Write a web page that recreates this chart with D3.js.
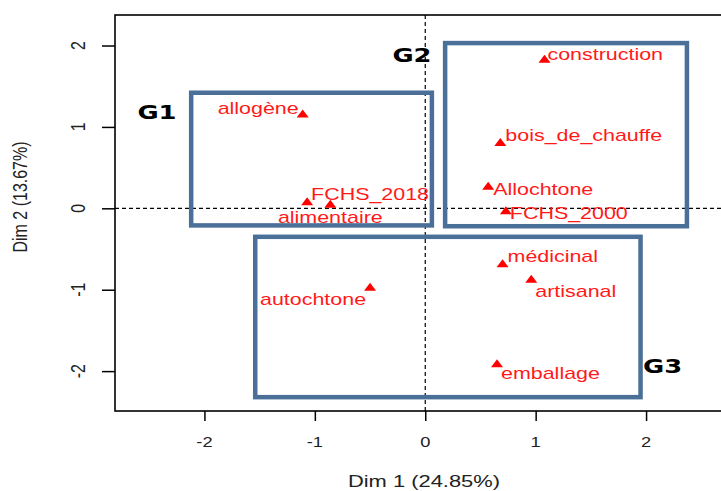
<!DOCTYPE html>
<html><head><meta charset="utf-8">
<script src="https://cdn.jsdelivr.net/npm/d3@7"></script>
<style>body{margin:0;background:#fff}svg{display:block}</style>
</head><body><div id="chart"></div>
<script>
// ---- data ----
const names = ["allogène","FCHS_2018","alimentaire","construction","bois_de_chauffe","Allochtone","FCHS_2000","autochtone","médicinal","artisanal","emballage"];
const dim1  = [-1.11,-1.07,-0.86,1.08,0.68,0.57,0.73,-0.50,0.70,0.96,0.65];
const dim2  = [1.16,0.08,0.05,1.83,0.81,0.27,-0.03,-0.97,-0.68,-0.87,-1.91];
const groupNames = ["G1","G2","G3"];
const groupX0 = [-2.12,0.18,-1.54];
const groupX1 = [0.06,2.37,1.95];
const groupY0 = [-0.21,-0.22,-2.32];
const groupY1 = [1.42,2.03,-0.35];
const groupLabelX = [-2.43,-0.12,2.15];
const groupLabelY = [1.18,1.89,-1.93];
const xTicks = [-2,-1,0,1,2];
const yTicks = [-2,-1,0,1,2];
const xTitle = "Dim 1 (24.85%)";
const yTitle = "Dim 2 (13.67%)";

// label placement (style): anchor, dx, dy in px
const labelStyle = {
  "allogène":["end",-4,-6], "FCHS_2018":["start",4,-8], "alimentaire":["middle",0,13],
  "construction":["start",3,-5], "bois_de_chauffe":["start",5,-7], "Allochtone":["start",5,3],
  "FCHS_2000":["start",4,2], "autochtone":["end",-4,12], "médicinal":["start",5,-7],
  "artisanal":["start",4,12], "emballage":["start",4,9]
};

const W = 721, H = 491;
const svg = d3.select("#chart").append("svg").attr("width",W).attr("height",H);
const x = d3.scaleLinear().domain([-2.81,2.81]).range([115,735.5]);
const y = d3.scaleLinear().domain([-2.49,2.375]).range([411,15]);

const blue = "#4a6f98";
const SX = 1.3;

// dashed zero lines
svg.append("line").attr("x1",x(-2.81)).attr("x2",x(2.81)).attr("y1",y(0)).attr("y2",y(0))
  .attr("stroke","#000").attr("stroke-width",1.2).attr("stroke-dasharray","4,3");
svg.append("line").attr("x1",x(0)).attr("x2",x(0)).attr("y1",y(2.375)).attr("y2",y(-2.49))
  .attr("stroke","#000").attr("stroke-width",1.2).attr("stroke-dasharray","4,3");

// group boxes
const gidx = d3.range(groupNames.length);
svg.selectAll("rect.grp").data(gidx).enter().append("rect").attr("class","grp")
  .attr("x",i=>x(groupX0[i])).attr("y",i=>y(groupY1[i]))
  .attr("width",i=>x(groupX1[i])-x(groupX0[i])).attr("height",i=>y(groupY0[i])-y(groupY1[i]))
  .attr("fill","none").attr("stroke",blue).attr("stroke-width",4.5);

svg.selectAll("g.glab").data(gidx).enter().append("g").attr("class","glab")
  .attr("transform",i=>`translate(${x(groupLabelX[i])},${y(groupLabelY[i])}) scale(1.29,1)`)
  .append("text").attr("text-anchor","middle").attr("dy","0.36em")
  .attr("font-family","DejaVu Sans").attr("font-weight","bold").attr("font-size",20)
  .attr("fill","#000").text(i=>groupNames[i]);

// frame
svg.append("rect").attr("x",x(-2.81)).attr("y",y(2.375)).attr("width",x(2.81)-x(-2.81))
  .attr("height",y(-2.49)-y(2.375)).attr("fill","none").attr("stroke","#000").attr("stroke-width",1.6);

// axes ticks
const ax = svg.append("g").attr("transform",`translate(0,${y(-2.49)})`)
  .call(d3.axisBottom(x).tickValues(xTicks).tickSize(10).tickFormat(""));
ax.select(".domain").remove();
ax.selectAll("line").attr("stroke","#000").attr("stroke-width",1.5);
const ay = svg.append("g").attr("transform",`translate(${x(-2.81)},0)`)
  .call(d3.axisLeft(y).tickValues(yTicks).tickSize(13).tickFormat(""));
ay.select(".domain").remove();
ay.selectAll("line").attr("stroke","#000").attr("stroke-width",1.5);

const txtFont = "Liberation Sans, Arial, sans-serif";
svg.selectAll("g.xt").data(xTicks).enter().append("g").attr("class","xt")
  .attr("transform",d=>`translate(${x(d)},442) scale(1.22,1)`)
  .append("text").attr("text-anchor","middle").attr("dy","0.36em")
  .attr("font-family",txtFont).attr("font-size",15).attr("fill","#222").text(d=>d);
svg.selectAll("g.yt").data(yTicks).enter().append("g").attr("class","yt")
  .attr("transform",d=>`translate(78,${y(d)}) scale(${SX},1) rotate(-90)`)
  .append("text").attr("text-anchor","middle").attr("dy","0.36em")
  .attr("font-family",txtFont).attr("font-size",16).attr("fill","#222").text(d=>d);

// titles
svg.append("g").attr("transform",`translate(424,481) scale(1.37,1)`)
  .append("text").attr("text-anchor","middle").attr("dy","0.36em")
  .attr("font-family",txtFont).attr("font-size",16).attr("fill","#222").text(xTitle);
svg.append("g").attr("transform",`translate(20,197) scale(${SX},1) rotate(-90)`)
  .append("text").attr("text-anchor","middle").attr("dy","0.36em")
  .attr("font-family",txtFont).attr("font-size",16).attr("fill","#222").text(yTitle);

// points
const idx = d3.range(names.length);
const tri = "M0,-4.5L6,3.5L-6,3.5Z";
svg.selectAll("path.pt").data(idx).enter().append("path").attr("class","pt")
  .attr("d",tri).attr("transform",i=>`translate(${x(dim1[i])},${y(dim2[i])})`)
  .attr("fill","#ff0000");

svg.selectAll("g.lab").data(idx).enter().append("g").attr("class","lab")
  .attr("transform",i=>{const s=labelStyle[names[i]];return `translate(${x(dim1[i])+s[1]},${y(dim2[i])+s[2]}) scale(1.34,1)`;})
  .append("text").attr("text-anchor",i=>labelStyle[names[i]][0]).attr("dy","0.36em")
  .attr("font-family",txtFont).attr("font-size",16).attr("fill","#ff1a1a").text(i=>names[i]);
</script></body></html>
